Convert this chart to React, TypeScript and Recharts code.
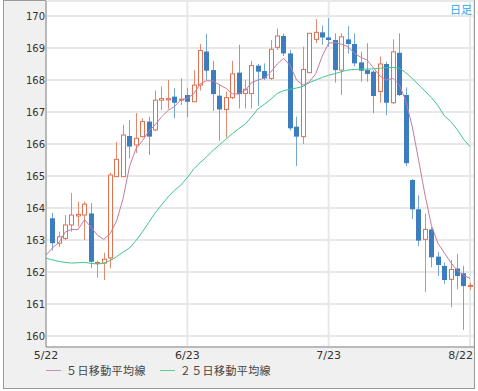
import { ComposedChart, Bar, Line, XAxis, YAxis, CartesianGrid } from 'recharts';

// index of each gridline date on the x axis
const tickIdx = [0, 22, 44, 66];
const tickLabels = ['5/22', '6/23', '7/23', '8/22'];
const yTicks = [160, 161, 162, 163, 164, 165, 166, 167, 168, 169, 170];

// daily candles (index 0 has no candle drawn)
const opens = [null,
  163.68, 162.9, 163.05, 163.47, 163.75, 163.78, 163.83, 162.27, 162.28, 162.44,
  164.98, 164.98, 166.25, 165.97, 166.23, 166.7, 166.44, 167.37, 167.38, 167.48,
  167.37, 167.53, 167.32, 167.84, 168.89, 168.31, 167.51, 167.08, 167.45, 168.23,
  167.58, 167.58, 168.45, 168.28, 168.05, 169.02, 169.375, 168.83, 166.54, 166.23,
  168.23, 169.27, 169.49, 169.33, 169.25, 168.31, 169.27, 169.125, 168.55, 168.31,
  168.26, 167.64, 168.5, 167.29, 168.85, 167.53, 164.875, 163.96, 163.02, 163.33,
  162.48, 162.19, 161.77, 162.11, 161.96, 161.55];
const highs = [null,
  163.85, 163.26, 163.78, 164.47, 164.2, 164.2, 164.15, 162.35, 162.6, 165.1,
  166.07, 166.6, 166.75, 166.97, 166.8, 166.85, 167.67, 167.8, 168.0, 167.74,
  168.05, 167.75, 168.31, 169.125, 169.44, 168.6, 167.84, 167.64, 168.6, 169.1,
  168.0, 168.6, 168.5, 168.52, 169.25, 169.61, 169.46, 168.94, 166.85, 169.04,
  169.46, 169.9, 169.7, 169.93, 169.46, 169.46, 169.69, 169.46, 168.88, 169.15,
  168.3, 168.73, 168.57, 169.27, 169.46, 167.77, 164.9, 164.4, 163.83, 163.4,
  162.63, 162.3, 162.375, 162.56, 162.19, 161.67];
const lows = [null,
  162.67, 162.78, 163.0, 163.26, 163.42, 163.0, 162.12, 161.82, 161.75, 162.12,
  164.98, 164.98, 165.55, 165.72, 166.2, 165.66, 166.4, 167.06, 167.1, 166.8,
  167.22, 166.84, 167.32, 167.67, 168.0, 167.03, 166.1, 166.2, 167.4, 167.11,
  167.11, 167.11, 167.19, 168.0, 168.0, 168.94, 168.75, 166.42, 165.31, 166.0,
  168.23, 169.15, 169.1, 169.04, 167.92, 167.53, 168.83, 168.42, 167.95, 167.95,
  166.96, 167.29, 166.9, 167.25, 167.5, 165.31, 163.65, 162.81, 161.38, 162.15,
  161.875, 161.625, 160.9, 161.46, 160.19, 161.44];
const closes = [null,
  162.9, 163.1, 163.47, 163.78, 163.8, 164.12, 162.32, 162.3, 162.4, 165.03,
  165.52, 166.28, 165.92, 166.18, 166.7, 166.23, 167.37, 167.42, 167.42, 167.29,
  167.4, 167.32, 167.84, 168.92, 168.29, 167.56, 167.08, 167.45, 168.19, 167.56,
  167.71, 168.45, 168.26, 168.05, 168.96, 169.375, 168.83, 166.49, 166.23, 168.33,
  169.46, 169.49, 169.33, 169.25, 168.31, 169.35, 169.125, 168.52, 168.29, 168.19,
  167.5, 168.5, 167.29, 168.88, 167.53, 165.4, 163.96, 162.98, 163.33, 162.46,
  162.22, 161.75, 162.08, 161.875, 161.56, 161.58];

// moving averages
const ma5 = [
  162.53, 162.75, 162.92, 163.25, 163.33, 163.33, 163.64, 163.4, 163.15, 163.02,
  163.2, 163.6, 164.3, 165.3, 165.85, 166.1, 166.4, 166.6, 166.85, 167.05,
  167.17, 167.38, 167.43, 167.57, 167.88, 167.98, 167.97, 167.85, 167.74, 167.57,
  167.56, 167.67, 167.92, 168.0, 168.06, 168.25, 168.5, 168.68, 168.45, 168.0,
  167.84, 167.95, 168.2, 168.75, 169.15, 169.17, 169.12, 169.04, 168.84, 168.71,
  168.62, 168.37, 168.12, 168.0, 168.05, 167.85, 167.35, 166.55, 165.5, 164.4,
  163.45, 162.9, 162.6, 162.3, 162.05, 161.9, 161.8];
const ma25 = [
  162.43, 162.38, 162.33, 162.3, 162.28, 162.29, 162.3, 162.27, 162.25, 162.27,
  162.36, 162.48, 162.62, 162.75, 162.98, 163.25, 163.55, 163.85, 164.1, 164.35,
  164.55, 164.72, 164.95, 165.22, 165.42, 165.6, 165.8, 165.97, 166.15, 166.32,
  166.48, 166.62, 166.85, 167.1, 167.24, 167.4, 167.58, 167.67, 167.71, 167.75,
  167.8, 167.92, 168.0, 168.08, 168.15, 168.2, 168.26, 168.31, 168.33, 168.34,
  168.34, 168.35, 168.37, 168.39, 168.39, 168.37, 168.23, 168.05, 167.85, 167.65,
  167.45, 167.2, 166.88, 166.7, 166.45, 166.15, 165.92];

const rows = ma5.map((m, i) => ({
  i,
  open: opens[i],
  high: highs[i],
  low: lows[i],
  close: closes[i],
  hl: lows[i] == null ? null : [lows[i], highs[i]],
  ma5: m,
  ma25: ma25[i],
}));

const UP = '#e0704f';
const UP_WICK = '#e58a6f';
const DOWN = '#3b7dbf';
const DOWN_WICK = '#74a6d6';

function Candle(props: any) {
  const { x, y, width, height, payload } = props;
  if (!payload || payload.open == null) return <g />;
  const { open, close, high, low } = payload;
  const top = Math.min(y, y + height);
  const h = Math.abs(height);
  const span = high - low;
  const py = (v: number) => (span > 0 ? top + ((high - v) / span) * h : top);
  const n = Math.floor(x + width / 2);
  const cx = n + 0.5;
  const up = close >= open;
  const bTop = py(Math.max(open, close));
  const bBot = py(Math.min(open, close));
  if (up) {
    return (
      <g>
        <line x1={cx} x2={cx} y1={top} y2={top + h} stroke={UP_WICK} strokeWidth={1} />
        <rect x={n - 1.5} y={bTop} width={4} height={Math.max(bBot - bTop, 1)} fill="#fff" stroke={UP} strokeWidth={1} />
      </g>
    );
  }
  return (
    <g>
      <line x1={cx} x2={cx} y1={top} y2={top + h} stroke={DOWN_WICK} strokeWidth={1} />
      <rect x={n - 2} y={bTop} width={5} height={Math.max(bBot - bTop, 1)} fill={DOWN} />
    </g>
  );
}

function XTick(props: any) {
  const { x, y, payload, index } = props;
  const last = index === tickIdx.length - 1;
  return (
    <text x={last ? x + 7 : x} y={y} dy={9} textAnchor={last ? 'end' : 'middle'}
      fontFamily="DejaVu Sans" fontSize={11} fill="#333">
      {tickLabels[tickIdx.indexOf(payload.value)]}
    </text>
  );
}

function YTick(props: any) {
  const { x, y, payload } = props;
  return (
    <text x={x} y={y} dy={4} textAnchor="end" fontFamily="DejaVu Sans" fontSize={10} fill="#333">
      {payload.value}
    </text>
  );
}

const legendText: any = { fontFamily: '"Noto Sans CJK JP"', fontSize: 11, lineHeight: '12px', color: '#444', letterSpacing: 0.4 };

export default function App() {
  return (
    <div style={{ position: 'absolute', left: 0, top: 0, width: 478, height: 391, background: '#fff' }}>
      <div style={{ position: 'absolute', left: 3, top: 0, width: 472, height: 389, boxSizing: 'border-box', border: '1px solid #9a9a9a', background: '#f0f0f0' }} />
      <div style={{ position: 'absolute', left: 0, top: 0 }}>
        <ComposedChart width={474} height={391} data={rows} margin={{ top: 1, right: 0, bottom: 24, left: 6 }}>
          <CartesianGrid fill="#fff" stroke="#e8e8e8" strokeWidth={2} />
          <XAxis dataKey="i" type="number" domain={[0, 66.62]} ticks={tickIdx} allowDataOverflow
            height={20} tickLine={false} tickSize={0} tickMargin={3} stroke="#8a8a8a" tick={<XTick />} />
          <YAxis domain={[159.656, 170.469]} ticks={yTicks} allowDataOverflow width={40}
            tickLine={false} tickSize={0} tickMargin={1} stroke="#8a8a8a" tick={<YTick />} />
          <Bar dataKey="hl" barSize={5} shape={<Candle />} isAnimationActive={false} />
          <Line dataKey="ma25" type="linear" stroke="#3ec68a" strokeWidth={1} dot={false} activeDot={false} isAnimationActive={false} />
          <Line dataKey="ma5" type="linear" stroke="#c97aa2" strokeWidth={1} dot={false} activeDot={false} isAnimationActive={false} />
        </ComposedChart>
      </div>
      <div style={{ position: 'absolute', left: 450, top: 3, width: 22, textAlign: 'right', fontFamily: '"Noto Sans CJK JP"', fontSize: 11, lineHeight: '12px', color: '#2aa8ee' }}>日足</div>
      <div style={{ position: 'absolute', left: 46, top: 364, display: 'flex', alignItems: 'center', whiteSpace: 'nowrap' }}>
        <span style={{ display: 'inline-block', width: 15, height: 1, background: '#d38db0', marginRight: 5 }} />
        <span style={legendText}>５日移動平均線</span>
        <span style={{ display: 'inline-block', width: 15, height: 1, background: '#56cf9a', marginLeft: 14, marginRight: 5 }} />
        <span style={legendText}>２５日移動平均線</span>
      </div>
    </div>
  );
}
